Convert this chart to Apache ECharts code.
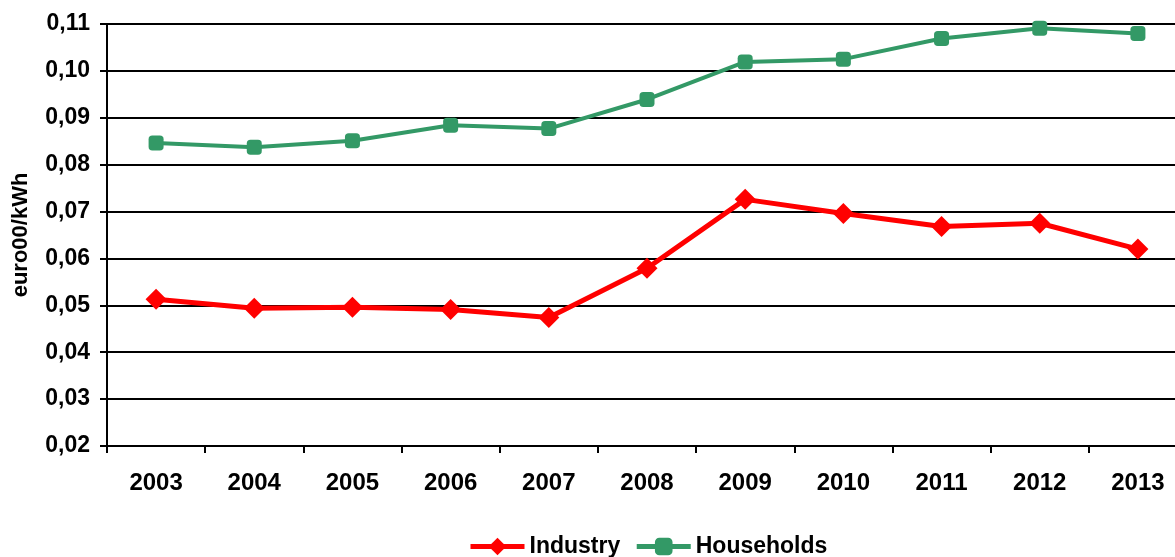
<!DOCTYPE html>
<html><head><meta charset="utf-8">
<script src="https://cdn.jsdelivr.net/npm/echarts@6/dist/echarts.min.js"></script>
<style>html,body{margin:0;padding:0;background:#fff}#c{width:1175px;height:557px}</style>
</head><body><div id="c"></div>
<script>
const years = ['2003','2004','2005','2006','2007','2008','2009','2010','2011','2012','2013'];
const industry = [0.0513,0.0494,0.0496,0.0491,0.0474,0.0579,0.0726,0.0696,0.0668,0.0675,0.0620];
const households = [0.0846,0.0837,0.0851,0.0884,0.0877,0.0939,0.1019,0.1025,0.1069,0.1091,0.1080];
const yName = 'euro00/kWh';
const fam = '"Liberation Sans", Arial, sans-serif';
const chart = echarts.init(document.getElementById('c'), null, {renderer:'canvas'});
chart.setOption({
  animation:false,
  backgroundColor:'#fff',
  grid:{left:107, top:24, height:422, width:1080, containLabel:false, outerBoundsMode:'none'},
  legend:{
    top:535, left:468, padding:0, itemWidth:54, itemHeight:22, itemGap:14,
    lineStyle:{width:5},
    textStyle:{fontFamily:fam, fontWeight:'bold', fontSize:23, color:'#000'},
    data:['Industry','Households']
  },
  xAxis:{
    type:'category', data:years, boundaryGap:true,
    axisLine:{lineStyle:{color:'#000', width:2}},
    axisTick:{show:true, length:7, lineStyle:{color:'#000', width:2}},
    axisLabel:{fontFamily:fam, fontWeight:'bold', fontSize:24, color:'#000', margin:25},
    splitLine:{show:false}
  },
  yAxis:{
    type:'value', min:0.02, max:0.11, interval:0.01,
    name:yName, nameLocation:'middle', nameGap:75, nameRotate:90,
    nameTextStyle:{fontFamily:fam, fontWeight:'bold', fontSize:22, color:'#000'},
    axisLine:{show:true, lineStyle:{color:'#000', width:2}},
    axisTick:{show:true, length:7, lineStyle:{color:'#000', width:2}},
    axisLabel:{fontFamily:fam, fontWeight:'bold', fontSize:23, color:'#000', margin:17,
      formatter:v=>v.toFixed(2).replace('.',',')},
    splitLine:{show:true, lineStyle:{color:'#000', width:2}}
  },
  series:[
    {name:'Industry', type:'line', data:industry, symbol:'diamond', symbolSize:21,
     lineStyle:{color:'#ff0000', width:5}, itemStyle:{color:'#ff0000'}},
    {name:'Households', type:'line', data:households, symbol:'roundRect', symbolSize:15,
     lineStyle:{color:'#339966', width:4}, itemStyle:{color:'#339966'}}
  ]
});
</script></body></html>
